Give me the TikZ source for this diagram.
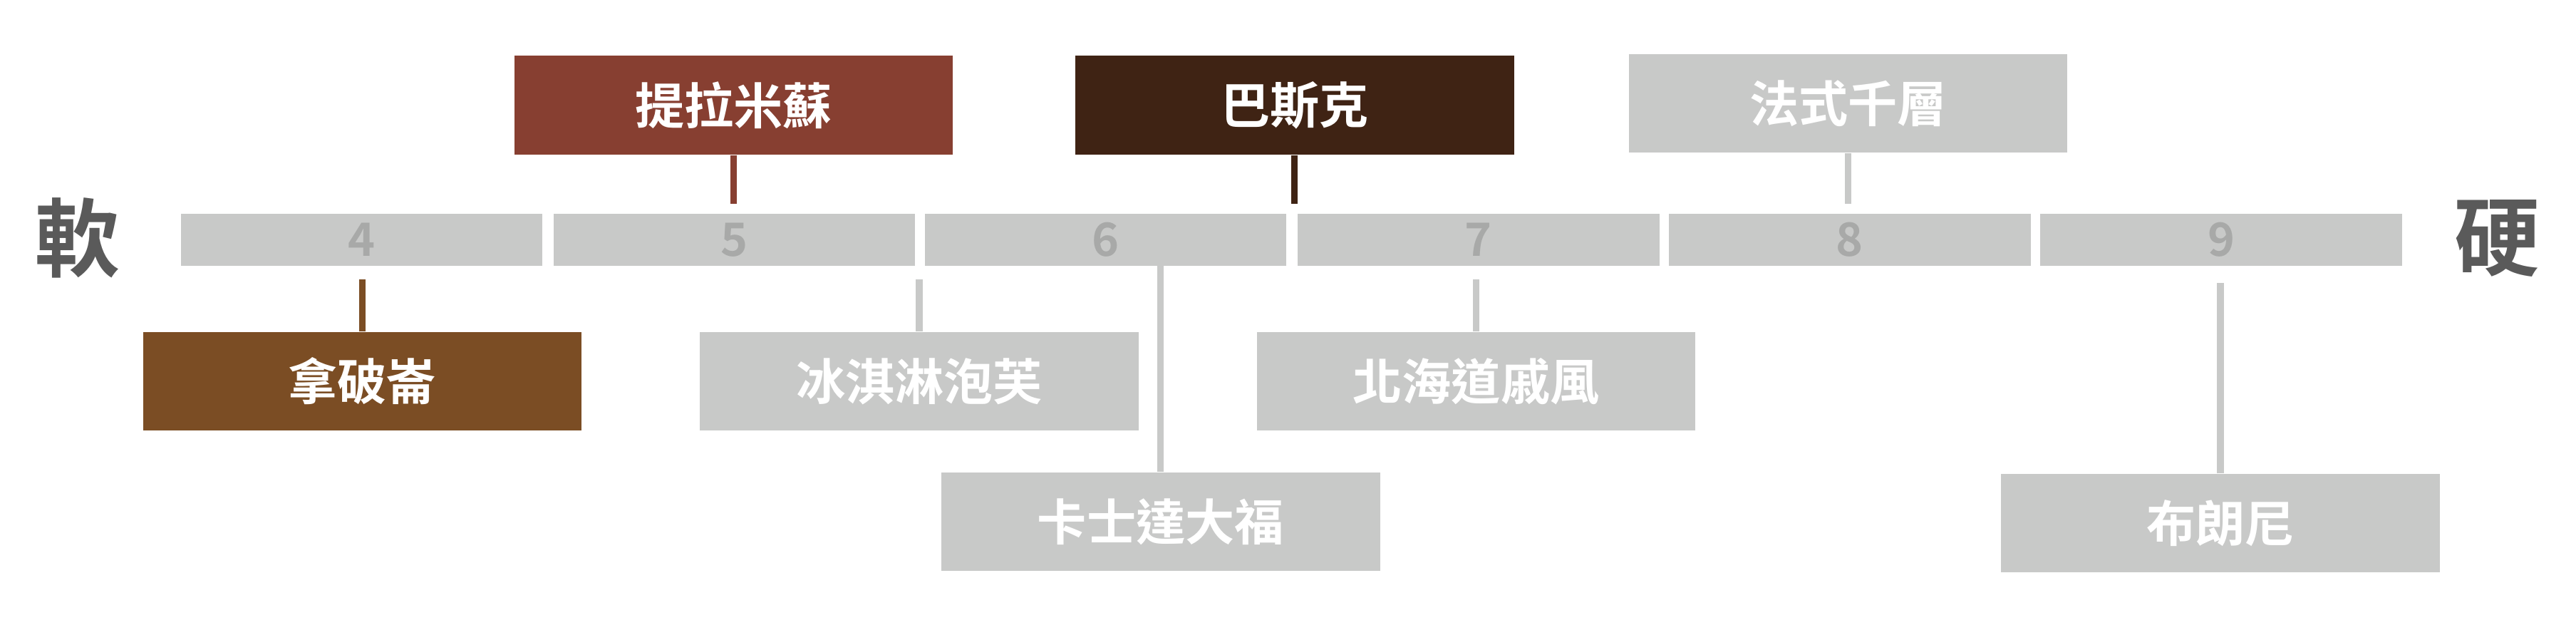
\documentclass[tikz,border=0pt]{standalone}
\usepackage{fontspec}
\newfontfamily\cjk{Noto Sans CJK TC Bold}
\usetikzlibrary{positioning}
\definecolor{barc}{RGB}{200,201,200}
\definecolor{numc}{RGB}{168,169,168}
\definecolor{tira}{RGB}{135,63,49}
\definecolor{basq}{RGB}{63,35,20}
\definecolor{napo}{RGB}{123,77,36}
\definecolor{sidec}{RGB}{90,90,90}
\tikzset{every picture/.style={line width=0.75pt}}
\tikzset{
  seg/.style={fill=barc, draw=none, minimum width=220pt, minimum height=32pt, inner sep=0pt, text=numc, font=\cjk\fontsize{28}{30}\selectfont},
  cake/.style={draw=none, minimum width=267pt, minimum height=60pt, inner sep=0pt, text=white, font=\cjk\fontsize{30}{32}\selectfont},
  link/.style={line width=4pt},
}
\begin{document}
\begin{tikzpicture}[x=1pt,y=1pt,yscale=-1,xscale=1]
\useasboundingbox (0,0) rectangle (1568,383);

% scale bar
\foreach \n/\x in {4/220,5/447,6/673,7/900,8/1126,9/1352}
  \node[seg] (s\n) at (\x,146) {\n};
\node[text=sidec, font=\cjk\fontsize{52}{54}\selectfont] (soft) at (47,145) {軟};
\node[text=sidec, font=\cjk\fontsize{52}{54}\selectfont] (hard) at (1520,145) {硬};

% cakes above
\node[cake, fill=tira] (tiramisu) at (446.5,64) {提拉米蘇};
\node[cake, fill=basq] (basque) at (788,64) {巴斯克};
\node[cake, fill=barc] (mille) at (1125,63) {法式千層};
% cakes below
\node[cake, fill=napo] (napoleon) at (220.5,232) {拿破崙};
\node[cake, fill=barc] (puff) at (559.5,232) {冰淇淋泡芙};
\node[cake, fill=barc] (daifuku) at (706.5,317.5) {卡士達大福};
\node[cake, fill=barc] (chiffon) at (898.5,232) {北海道戚風};
\node[cake, fill=barc] (brownie) at (1351.5,318.5) {布朗尼};

% ticks
\coordinate (tTira) at (446.5,124);
\coordinate (tBasq) at (788,124);
\coordinate (tMill) at (1125,124);
\coordinate (tNapo) at (220.5,170);
\coordinate (tPuff) at (559.5,170);
\coordinate (tDaif) at (706.5,162);
\coordinate (tChif) at (898.5,170);
\coordinate (tBrow) at (1351.5,172);

\draw[link, tira] (tiramisu.south) -- (tTira);
\draw[link, basq] (basque.south) -- (tBasq);
\draw[link, barc] (mille.south) -- (tMill);
\draw[link, napo] (napoleon.north) -- (tNapo);
\draw[link, barc] (puff.north) -- (tPuff);
\draw[link, barc] (daifuku.north) -- (tDaif);
\draw[link, barc] (chiffon.north) -- (tChif);
\draw[link, barc] (brownie.north) -- (tBrow);

\end{tikzpicture}
\end{document}
